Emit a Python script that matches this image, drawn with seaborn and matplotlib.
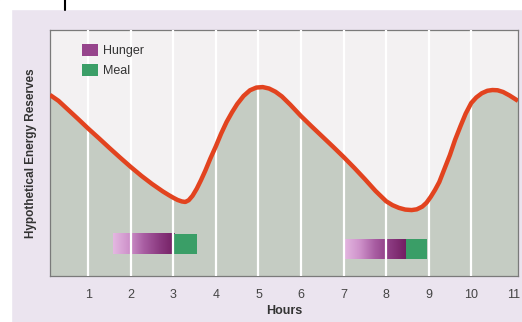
import numpy as np
import pandas as pd
import matplotlib
matplotlib.use("Agg")
import matplotlib.pyplot as plt
import seaborn as sns
from matplotlib.colors import LinearSegmentedColormap
from matplotlib.patches import Patch

# duong cong nang luong (doc tu hinh)
hours = [0.1, 0.3, 0.5, 0.75, 1.0, 1.25, 1.5, 1.75, 2.0, 2.25, 2.5, 2.75, 2.9, 3.0,
         3.1, 3.2, 3.28, 3.36, 3.45, 3.55, 3.65, 3.75, 3.87, 4.0, 4.12, 4.25, 4.38,
         4.5, 4.65, 4.8, 4.95, 5.1, 5.25, 5.4, 5.55, 5.75, 6.0, 6.25, 6.5, 6.75, 7.0,
         7.25, 7.5, 7.75, 8.0, 8.15, 8.3, 8.45, 8.6, 8.72, 8.85, 8.95, 9.05, 9.15,
         9.25, 9.37, 9.5, 9.62, 9.75, 9.87, 10.0, 10.12, 10.25, 10.38, 10.5, 10.62,
         10.75, 10.9, 11.1]
energy = [73.6, 71.2, 68.0, 64.0, 59.9, 56.0, 52.0, 48.1, 44.3, 40.7, 37.4, 34.4,
          32.8, 31.8, 30.9, 30.3, 30.1, 30.8, 32.6, 35.5, 39.0, 42.8, 47.8, 52.8,
          57.8, 62.6, 66.6, 69.9, 73.2, 75.5, 76.6, 76.8, 76.2, 74.9, 73.0, 69.6,
          65.0, 60.8, 56.7, 52.6, 48.4, 44.0, 39.4, 34.6, 30.4, 28.8, 27.7, 27.0,
          26.8, 27.1, 28.2, 29.8, 32.2, 35.0, 38.2, 43.5, 49.2, 55.3, 61.0, 66.0,
          70.3, 72.6, 74.3, 75.3, 75.6, 75.5, 74.8, 73.4, 71.2]

# khoang doi va bua an
hunger_start = [1.58, 7.02]
hunger_end = [3.02, 8.47]
meal_end = [3.55, 8.95]
bar_bottom = [8.9, 6.9]
bar_top = [17.1, 15.0]

tick_hours = list(range(1, 12))

df = pd.DataFrame({"Hours": hours, "Energy": energy})

sns.set_style("white")
plt.rcParams['font.family'] = ['Liberation Sans', 'DejaVu Sans']

fig = plt.figure(figsize=(5.22, 3.22), dpi=100, facecolor='#ebe4ef')
ax = fig.add_axes([50 / 522, 46 / 322, 468 / 522, 246 / 322])
ax.set_facecolor('#f3f1f2')

# vung duoi duong cong
ax.fill_between(df["Hours"], df["Energy"], 0, color='#c5ccc3', zorder=1, lw=0)

hunger_cmap = LinearSegmentedColormap.from_list(
    "hunger", ['#e4b8e1', '#cf93cb', '#a85da2', '#8b3a80', '#731f63'])
grad = np.linspace(0, 1, 256)[None, :]
for hs, he, me, b0, b1 in zip(hunger_start, hunger_end, meal_end, bar_bottom, bar_top):
    ax.imshow(grad, extent=(hs, he, b0, b1), aspect='auto', cmap=hunger_cmap,
              zorder=2, interpolation='bilinear')
    ax.fill_between([he, me], b0, b1, color='#3a9e67', zorder=2, lw=0)

# luoi doc trang
for h in tick_hours[:-1]:
    ax.axvline(h, color='white', lw=1.6, zorder=3)

sns.lineplot(data=df, x="Hours", y="Energy", ax=ax, color='#e2431f', lw=3.2,
             zorder=4, solid_capstyle='butt', solid_joinstyle='round')

ax.set_xlim(0.1, 11.1)
ax.set_ylim(0, 100)
ax.set_xticks(tick_hours)
ax.set_xticklabels([str(h) for h in tick_hours], fontsize=9, color='#444444')
ax.set_yticks([])
ax.tick_params(axis='x', length=0, pad=9)
ax.set_xlabel("Hours", fontsize=9, fontweight='bold', color='#333333', labelpad=3)
ax.set_ylabel("Hypothetical Energy Reserves", fontsize=8.5, fontweight='bold',
              color='#333333', labelpad=9)
for s in ax.spines.values():
    s.set_color('#7a7a7a')
    s.set_linewidth(0.9)

handles = [Patch(facecolor='#96448c', edgecolor='none', label='Hunger'),
           Patch(facecolor='#3a9e67', edgecolor='none', label='Meal')]
leg = ax.legend(handles=handles, loc='upper left', bbox_to_anchor=(0.05, 0.98),
                frameon=False, fontsize=9, handlelength=1.3, handleheight=1.2,
                handletextpad=0.4, labelspacing=0.5, borderpad=0.2)
for t in leg.get_texts():
    t.set_color('#333333')

# dai trang o tren va ben trai (nhu ban scan)
fig.patches.append(plt.Rectangle((0, 1 - 9 / 322), 1, 9 / 322, transform=fig.transFigure,
                                 color='white', zorder=0))
fig.patches.append(plt.Rectangle((0, 0), 11 / 522, 1, transform=fig.transFigure,
                                 color='white', zorder=0))
fig.lines.append(plt.Line2D([65 / 522, 65 / 522], [1 - 10 / 322, 1], transform=fig.transFigure,
                            color='black', lw=1.5))

fig.savefig("out.png", dpi=100, facecolor=fig.get_facecolor())
